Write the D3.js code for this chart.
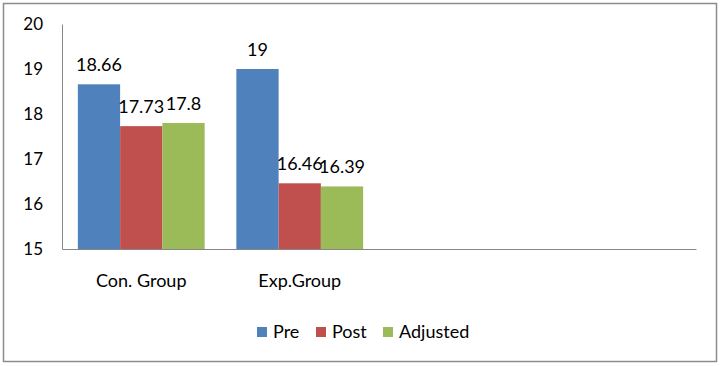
<!DOCTYPE html>
<html>
<head>
<meta charset="utf-8">
<script src="https://cdn.jsdelivr.net/npm/d3@7"></script>
<style>
  body { margin: 0; background: #fff; }
  text { font-family: Lato, "Open Sans", sans-serif; fill: #000; }
</style>
</head>
<body>
<div id="chart"></div>
<script>
// categories (4 slots in the source sheet, only two filled)
const categories = ['Con. Group', 'Exp.Group', '', '']
const seriesNames = ['Pre', 'Post', 'Adjusted']
const preValues = [18.66, 19]
const postValues = [17.73, 16.46]
const adjustedValues = [17.8, 16.39]
const yTicks = [15, 16, 17, 18, 19, 20]

const colors = ['#4F81BD', '#C0504D', '#9BBB59']
const seriesValues = [preValues, postValues, adjustedValues]

const W = 723, H = 366
const margin = { top: 24, right: 27, bottom: 117, left: 62 }
const width = W - margin.left - margin.right
const height = H - margin.top - margin.bottom

const svg = d3.select('#chart').append('svg')
    .attr('width', W)
    .attr('height', H)

// outer frame
svg.append('rect')
    .attr('x', 3.5).attr('y', 3.5)
    .attr('width', 713).attr('height', 358)
    .attr('fill', 'none')
    .attr('stroke', '#8c8c8c')
    .attr('stroke-width', 1.5)

const g = svg.append('g')
    .attr('transform', 'translate(' + margin.left + ',' + margin.top + ')')

const x0 = d3.scaleBand()
    .domain(d3.range(categories.length))
    .range([0, width])
    .paddingInner(0.2)
    .paddingOuter(0.1)
const x1 = d3.scaleBand()
    .domain(d3.range(seriesNames.length))
    .range([0, x0.bandwidth()])
const y = d3.scaleLinear().domain([15, 20]).range([height, 0])

// y axis
const yAxis = g.append('g')
    .call(d3.axisLeft(y).tickValues(yTicks).tickFormat(d3.format('d')).tickSize(0).tickPadding(19))
yAxis.select('.domain').attr('stroke', '#868686')
yAxis.selectAll('text').attr('font-size', '17px').attr('font-family', 'Lato, sans-serif')

// x axis (category labels)
const xAxis = g.append('g')
    .attr('transform', 'translate(0,' + height + ')')
    .call(d3.axisBottom(d3.scaleBand().domain(d3.range(categories.length)).range([0, width]))
        .tickSize(0).tickPadding(25)
        .tickFormat(i => categories[i]))
xAxis.select('.domain').attr('stroke', '#868686')
xAxis.selectAll('text').attr('font-size', '18px').attr('font-family', 'Lato, sans-serif')

// bars
const rows = categories.map((c, i) => ({
    i: i,
    vals: seriesValues.map((s, k) => ({ k: k, v: s[i] })).filter(d => d.v != null)
})).filter(r => r.vals.length)

const groups = g.selectAll('.grp')
    .data(rows)
    .enter().append('g')
    .attr('transform', d => 'translate(' + x0(d.i) + ',0)')

groups.selectAll('rect')
    .data(d => d.vals)
    .enter().append('rect')
    .attr('x', d => x1(d.k))
    .attr('y', d => y(d.v))
    .attr('width', x1.bandwidth())
    .attr('height', d => height - y(d.v))
    .attr('fill', d => colors[d.k])

groups.selectAll('text')
    .data(d => d.vals)
    .enter().append('text')
    .attr('x', d => x1(d.k) + x1.bandwidth() / 2)
    .attr('y', d => y(d.v) - 13)
    .attr('text-anchor', 'middle')
    .attr('font-size', '18px')
    .text(d => d.v)

// legend
const legendX = [257, 316, 383]
const legend = svg.append('g')
seriesNames.forEach((name, k) => {
    legend.append('rect')
        .attr('x', legendX[k]).attr('y', 327)
        .attr('width', 10).attr('height', 10)
        .attr('fill', colors[k])
    legend.append('text')
        .attr('x', legendX[k] + 16).attr('y', 338)
        .attr('font-size', '18px')
        .text(name)
})
</script>
</body>
</html>
